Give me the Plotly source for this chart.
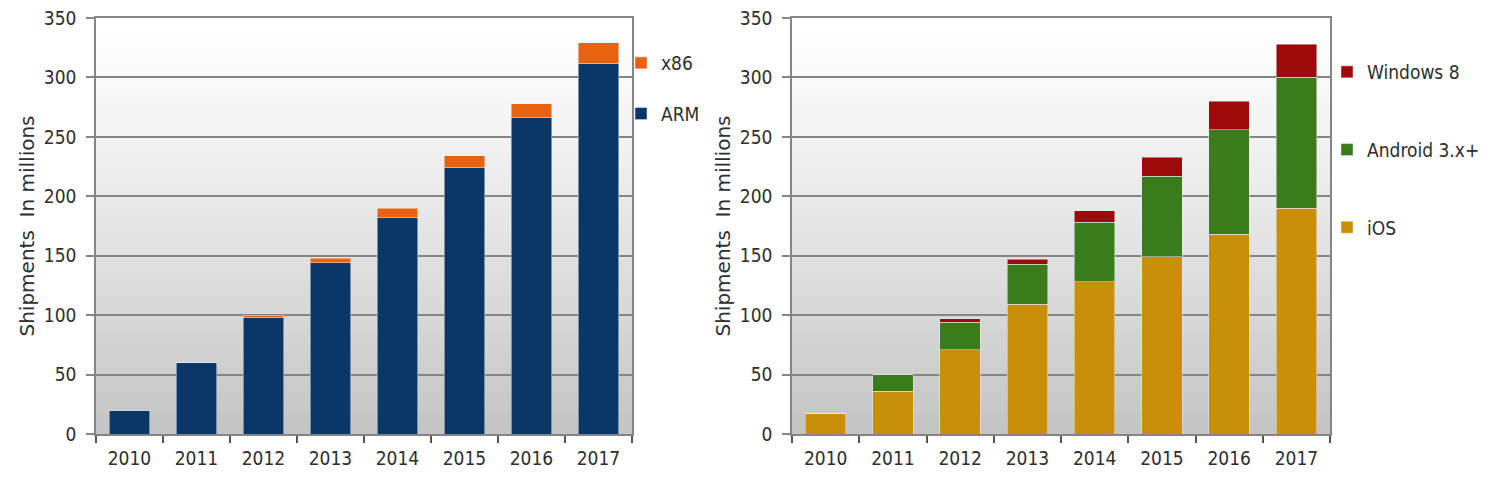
import plotly.graph_objects as go

years = ["2010", "2011", "2012", "2013", "2014", "2015", "2016", "2017"]

# Left chart: processor architecture
arm = [20, 60, 98, 144, 182, 224, 266, 312]
x86 = [0, 0, 2, 4, 8, 10, 12, 17]

# Right chart: operating system
ios = [17, 36, 71, 109, 128, 149, 168, 190]
android = [0, 14, 23, 34, 50, 68, 88, 110]
windows8 = [0, 0, 3, 4, 10, 16, 24, 28]

C_ARM = "#0b3766"
C_X86 = "#e8620f"
C_IOS = "#c98f0b"
C_AND = "#3a7c1c"
C_WIN = "#9c0a0a"

FONT = "DejaVu Sans Condensed, DejaVu Sans"
TFONT = "DejaVu Sans"
TXT = "#2e2e2e"
GRID = "#858585"

fig = go.Figure()

fig.add_trace(go.Bar(x=years, y=arm, name="ARM", marker_color=C_ARM,
                     xaxis="x", yaxis="y", legend="legend", legendgroup="a1", legendrank=2))
fig.add_trace(go.Bar(x=years, y=x86, name="x86", marker_color=C_X86,
                     xaxis="x", yaxis="y", legend="legend", legendgroup="a2", legendrank=1))

fig.add_trace(go.Bar(x=years, y=ios, name="iOS", marker_color=C_IOS,
                     xaxis="x2", yaxis="y2", legend="legend2", legendgroup="b1", legendrank=3))
fig.add_trace(go.Bar(x=years, y=android, name="Android 3.x+", marker_color=C_AND,
                     xaxis="x2", yaxis="y2", legend="legend2", legendgroup="b2", legendrank=2))
fig.add_trace(go.Bar(x=years, y=windows8, name="Windows 8", marker_color=C_WIN,
                     xaxis="x2", yaxis="y2", legend="legend2", legendgroup="b3", legendrank=1))

# gradient background bands (white top -> gray bottom)
shapes = []
N = 60
for xref, yref in (("x domain", "y domain"), ("x2 domain", "y2 domain")):
    for i in range(N):
        t = i / (N - 1)  # 0 bottom, 1 top
        f = min(1.0, max(0.0, (1 - t) ** 1.2))
        g = int(round(255 - (255 - 196) * f))
        shapes.append(dict(type="rect", xref=xref, yref=yref,
                           x0=0, x1=1, y0=i / N, y1=(i + 1) / N + 0.002,
                           fillcolor=f"rgb({g},{g},{g})", line_width=0, layer="below"))

ydom = [1 - 434 / 483, 1 - 18 / 483]

def xax(domain, anchor):
    return dict(domain=domain, anchor=anchor, type="category", automargin=False,
                showline=True, linecolor=GRID, linewidth=1.5, mirror=True,
                ticks="outside", tickson="boundaries", ticklen=7, tickwidth=1.5,
                tickcolor="#555555", ticklabelstandoff=6,
                tickfont=dict(family=FONT, size=19, color=TXT), showgrid=False)

def yax(domain, anchor):
    return dict(domain=domain, anchor=anchor, range=[0, 350], dtick=50,
                automargin=False,
                showline=True, linecolor=GRID, linewidth=1.5, mirror=True,
                showgrid=True, gridcolor=GRID, gridwidth=1.5,
                ticks="outside", ticklen=8, tickwidth=1.5, tickcolor=GRID,
                ticklabelstandoff=6, zeroline=False,
                tickfont=dict(family=FONT, size=19, color=TXT),
                title=dict(text="Shipments  In millions",
                           font=dict(family=TFONT, size=20, color=TXT), standoff=4))

fig.update_layout(
    width=1487, height=483,
    margin=dict(l=0, r=0, t=0, b=0),
    paper_bgcolor="white", plot_bgcolor="rgba(0,0,0,0)",
    barmode="stack", bargap=0.4,
    showlegend=True,
    xaxis=xax([96 / 1487, 632 / 1487], "y"),
    yaxis=yax(ydom, "x"),
    xaxis2=xax([792 / 1487, 1330 / 1487], "y2"),
    yaxis2=yax(ydom, "x2"),
    legend=dict(x=621 / 1487, y=1 - 44 / 483, xanchor="left", yanchor="top",
                traceorder="grouped", tracegroupgap=23,
                bgcolor="rgba(0,0,0,0)", itemwidth=30,
                font=dict(family=FONT, size=19, color=TXT)),
    legend2=dict(x=1327 / 1487, y=1 - 53 / 483, xanchor="left", yanchor="top",
                 traceorder="grouped", tracegroupgap=50,
                 bgcolor="rgba(0,0,0,0)", itemwidth=30,
                 font=dict(family=FONT, size=19, color=TXT)),
    shapes=shapes,
)

fig.write_html("out.html")
